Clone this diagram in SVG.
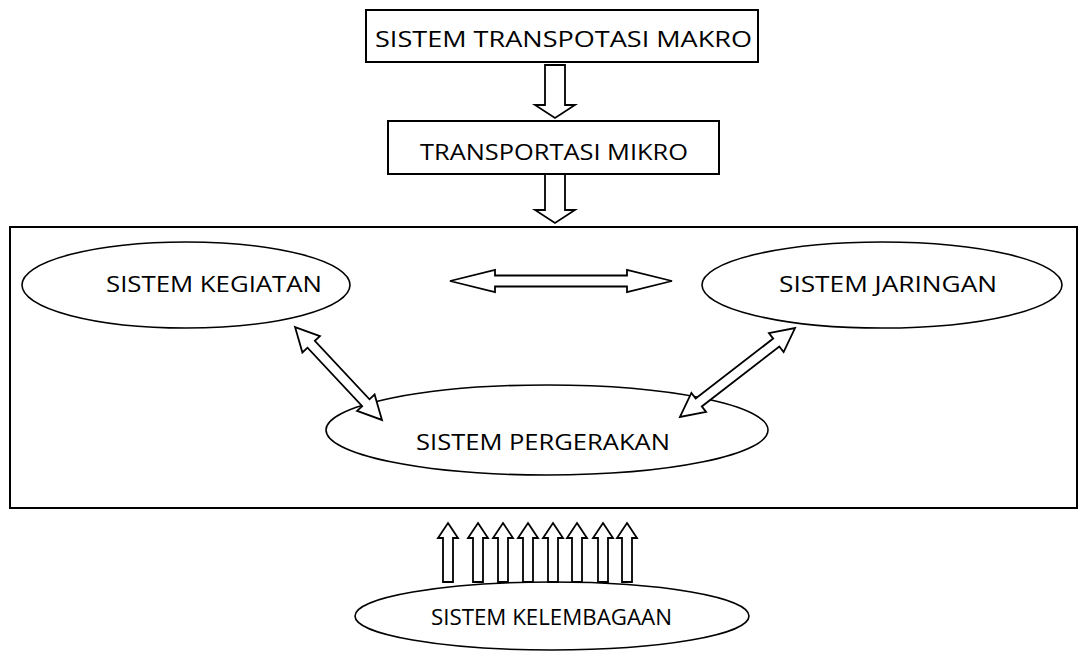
<svg xmlns="http://www.w3.org/2000/svg" width="1085" height="665" viewBox="0 0 1085 665">
<style>
.box{fill:#fff;stroke:#000;stroke-width:2}
.ell{fill:#fff;stroke:#000;stroke-width:1.6}
.arr{fill:#fff;stroke:#000;stroke-width:1.8;stroke-linejoin:miter}
text{font-family:"Open Sans","Liberation Sans",sans-serif;font-size:21px;fill:#000;text-anchor:middle}
</style>
<rect width="1085" height="665" fill="#fff"/>
<g id="frame"><rect class="box" x="10" y="227" width="1067" height="281"/></g>
<g id="makro"><rect class="box" x="366" y="10" width="392" height="52"/><text x="563.5" y="47" textLength="377" lengthAdjust="spacingAndGlyphs">SISTEM TRANSPOTASI MAKRO</text></g>
<g id="mikro"><rect class="box" x="388" y="121" width="331" height="53"/><text x="554" y="160" textLength="268" lengthAdjust="spacingAndGlyphs">TRANSPORTASI MIKRO</text></g>
<g id="kegiatan"><ellipse class="ell" cx="186" cy="285" rx="164" ry="43"/><text x="214" y="292" textLength="216" lengthAdjust="spacingAndGlyphs">SISTEM KEGIATAN</text></g>
<g id="jaringan"><ellipse class="ell" cx="882" cy="285" rx="180" ry="43"/><text x="888" y="292" textLength="218" lengthAdjust="spacingAndGlyphs">SISTEM JARINGAN</text></g>
<g id="pergerakan"><ellipse class="ell" cx="547" cy="430" rx="221" ry="45"/><text x="543" y="450" textLength="254" lengthAdjust="spacingAndGlyphs">SISTEM PERGERAKAN</text></g>
<g id="kelembagaan"><ellipse class="ell" cx="552" cy="616" rx="197" ry="34"/><text x="551.5" y="625" textLength="241" lengthAdjust="spacingAndGlyphs">SISTEM KELEMBAGAAN</text></g>
<g id="connectors">
<polygon class="arr" points="545,65 565,65 565,105 575,105 555,118 535,105 545,105"/>
<polygon class="arr" points="545,174 565,174 565,210 575,210 555,223 535,210 545,210"/>
<polygon class="arr" points="450,281 495,270 495,275.5 627,275.5 627,270 672,281 627,292 627,286.5 495,286.5 495,292"/>
<polygon class="arr" transform="translate(338.5,373.5) rotate(46.9)" points="-63.6,0 -40,-12 -40,-5 40,-5 40,-12 63.6,0 40,12 40,5 -40,5 -40,12"/>
<polygon class="arr" transform="translate(737.5,372.5) rotate(-37.7)" points="-72.7,0 -49,-12 -49,-5 49,-5 49,-12 72.7,0 49,12 49,5 -49,5 -49,12"/>
<g id="up-arrows">
<polygon class="arr" transform="translate(448,0)" points="0,523 10,538 5,538 5,582 -5,582 -5,538 -10,538"/>
<polygon class="arr" transform="translate(478,0)" points="0,523 10,538 5,538 5,582 -5,582 -5,538 -10,538"/>
<polygon class="arr" transform="translate(503,0)" points="0,523 10,538 5,538 5,582 -5,582 -5,538 -10,538"/>
<polygon class="arr" transform="translate(528,0)" points="0,523 10,538 5,538 5,582 -5,582 -5,538 -10,538"/>
<polygon class="arr" transform="translate(553,0)" points="0,523 10,538 5,538 5,582 -5,582 -5,538 -10,538"/>
<polygon class="arr" transform="translate(577,0)" points="0,523 10,538 5,538 5,582 -5,582 -5,538 -10,538"/>
<polygon class="arr" transform="translate(603,0)" points="0,523 10,538 5,538 5,582 -5,582 -5,538 -10,538"/>
<polygon class="arr" transform="translate(627,0)" points="0,523 10,538 5,538 5,582 -5,582 -5,538 -10,538"/>
</g>
</g>
</svg>
